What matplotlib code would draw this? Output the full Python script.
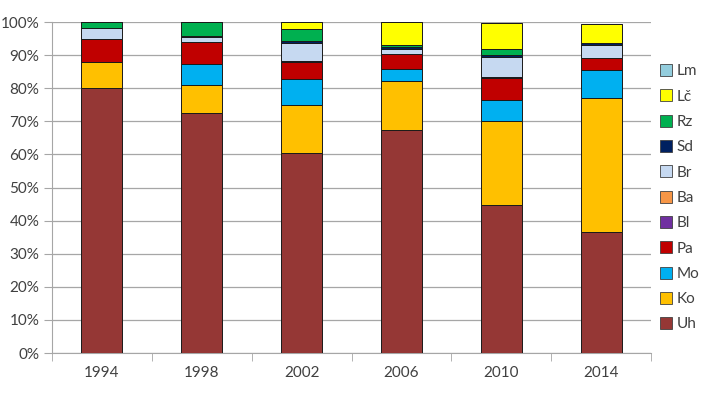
import numpy as np
import matplotlib
matplotlib.use('Agg')
import matplotlib.pyplot as plt
from matplotlib.lines import Line2D
from matplotlib.ticker import PercentFormatter

plt.rcParams['font.family'] = ['Lato', 'DejaVu Sans']

# Roky a podíly jednotlivých složek (%)
roky = ['1994', '1998', '2002', '2006', '2010', '2014']
Uh = [80.0, 72.6, 60.4, 67.4, 44.7, 36.6]
Ko = [8.0, 8.4, 14.5, 14.9, 25.4, 40.6]
Mo = [0.0, 6.3, 7.8, 3.5, 6.3, 8.3]
Pa = [7.0, 6.8, 5.3, 4.7, 6.6, 3.5]
Bl = [0.0, 0.0, 0.3, 0.0, 0.4, 0.0]
Ba = [0.0, 0.0, 0.0, 0.0, 0.0, 0.0]
Br = [3.1, 1.5, 5.3, 1.5, 6.1, 4.2]
Sd = [0.0, 0.3, 0.8, 0.5, 0.5, 0.6]
Rz = [1.9, 4.1, 3.5, 0.6, 1.8, 0.0]
Lc = [0.0, 0.0, 2.1, 6.9, 7.9, 5.5]
Lm = [0.0, 0.0, 0.0, 0.0, 0.0, 0.0]

serie = [
    ('Uh', Uh, '#953735'),
    ('Ko', Ko, '#FFC000'),
    ('Mo', Mo, '#00B0F0'),
    ('Pa', Pa, '#C00000'),
    ('Bl', Bl, '#7030A0'),
    ('Ba', Ba, '#F79646'),
    ('Br', Br, '#C6D9F1'),
    ('Sd', Sd, '#002060'),
    ('Rz', Rz, '#00B050'),
    ('Lč', Lc, '#FFFF00'),
    ('Lm', Lm, '#93CDDD'),
]

fig = plt.figure(figsize=(7.07, 3.94), dpi=100)
ax = fig.add_axes([0.0735, 0.104, 0.8475, 0.840])

x = np.arange(len(roky))
spodek = np.zeros(len(roky))
handles = []
for nazev, hodnoty, barva in serie:
    hodnoty = np.array(hodnoty)
    ax.bar(x, hodnoty, width=0.41, bottom=spodek, color=barva,
           edgecolor='#1a1a1a', linewidth=0.7, zorder=3)
    spodek += hodnoty
    handles.append(Line2D([], [], marker='s', linestyle='none', markersize=8,
                          markerfacecolor=barva, markeredgecolor='#404040',
                          markeredgewidth=0.6, label=nazev))

ax.set_xlim(-0.5, len(roky) - 0.5)
ax.set_ylim(0, 100)
ax.set_yticks(np.arange(0, 101, 10))
ax.yaxis.set_major_formatter(PercentFormatter(decimals=0))
ax.set_xticks(x)
ax.set_xticklabels(roky)
ax.set_xticks(np.arange(-0.5, len(roky), 1), minor=True)

ax.grid(axis='y', color='#a6a6a6', linewidth=0.9, zorder=0)
for s in ['top', 'right']:
    ax.spines[s].set_visible(False)
ax.spines['left'].set_color('#a6a6a6')
ax.spines['bottom'].set_color('#a6a6a6')
ax.tick_params(axis='y', length=6, color='#a6a6a6', labelsize=11,
               labelcolor='#404040', pad=3)
ax.tick_params(axis='x', which='major', length=0, labelsize=11,
               labelcolor='#404040', pad=9)
ax.tick_params(axis='x', which='minor', length=6, color='#a6a6a6')

fig.legend(handles=handles[::-1], loc='upper left',
           bbox_to_anchor=(0.925, 0.852), frameon=False, fontsize=11,
           handlelength=0.8, handletextpad=0.3, labelspacing=0.74,
           borderaxespad=0, labelcolor='#404040')

plt.savefig('out.png', dpi=100)
